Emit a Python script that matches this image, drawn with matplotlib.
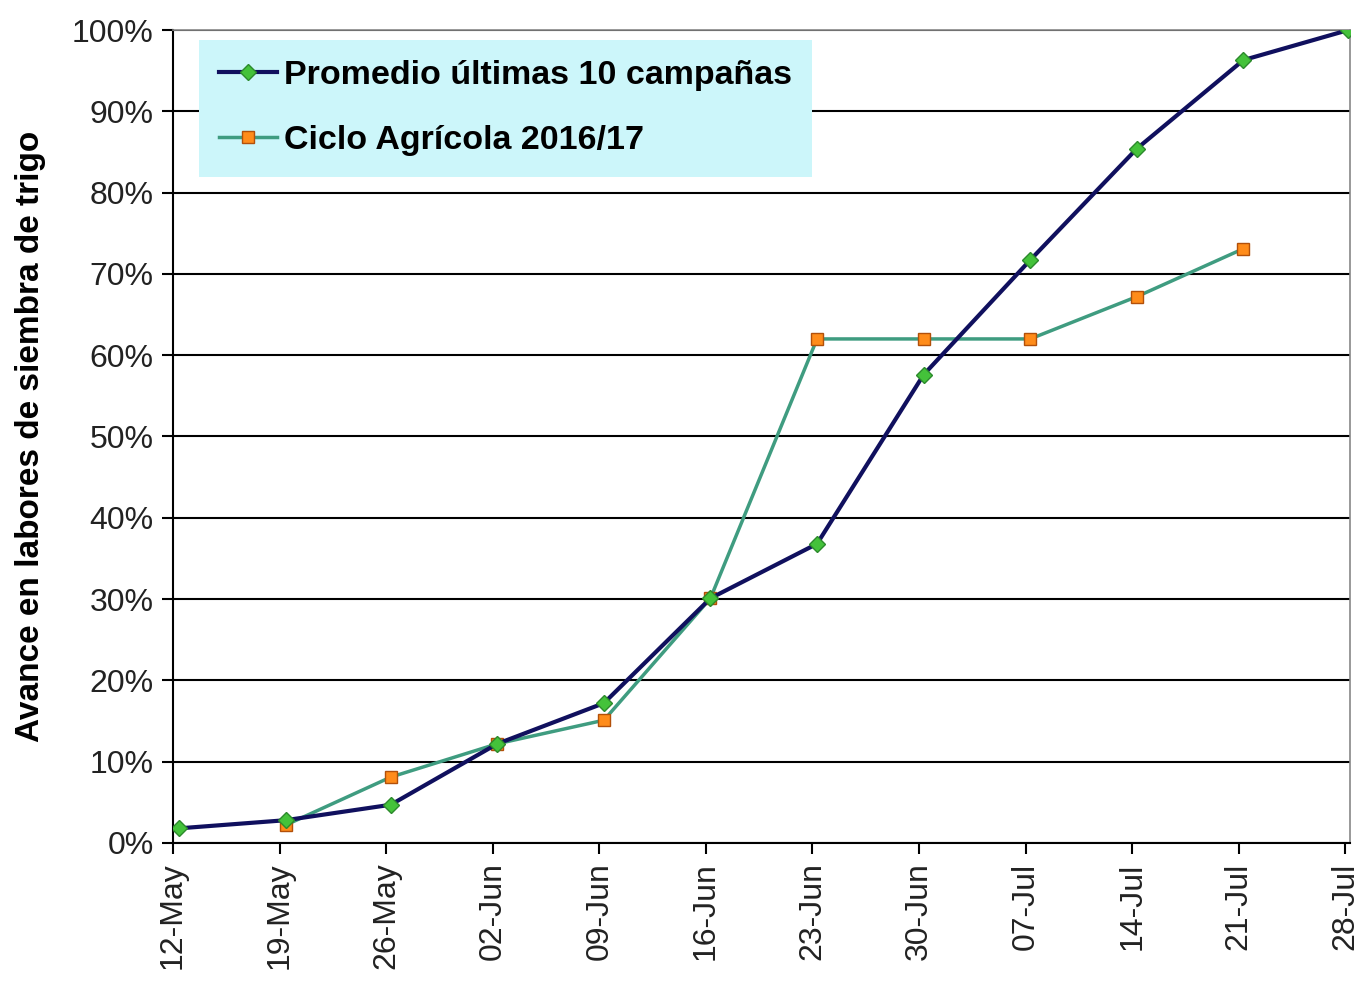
import numpy as np
import matplotlib.pyplot as plt
from matplotlib.ticker import PercentFormatter

plt.rcParams['font.family'] = ['Liberation Sans', 'DejaVu Sans']

# Fechas (días desde 12-May) y avance de siembra (%)
date_labels = ['12-May', '19-May', '26-May', '02-Jun', '09-Jun', '16-Jun',
               '23-Jun', '30-Jun', '07-Jul', '14-Jul', '21-Jul', '28-Jul']
tick_days = [0, 7, 14, 21, 28, 35, 42, 49, 56, 63, 70, 77]
point_days = [0.4, 7.4, 14.3, 21.3, 28.3, 35.3, 42.3, 49.3, 56.3, 63.3, 70.3, 77.2]

promedio = [1.8, 2.8, 4.7, 12.2, 17.2, 30.1, 36.8, 57.6, 71.7, 85.4, 96.3, 100.0]
ciclo_days = point_days[1:11]
ciclo = [2.2, 8.1, 12.2, 15.1, 30.1, 62.0, 62.0, 62.0, 67.2, 73.1]

fig = plt.figure(figsize=(13.6, 9.81), dpi=100)
ax = fig.add_axes([0.1272, 0.1407, 0.8654, 0.8287])

ax.plot(point_days, promedio, color='#10105e', lw=3, marker='D', ms=8,
        mfc='#44c23a', mec='#2c8a2c', mew=1, label='Promedio últimas 10 campañas', zorder=4)
ax.plot(ciclo_days, ciclo, color='#3f9c80', lw=2.5, marker='s', ms=9,
        mfc='#ff8c1a', mec='#b2500a', mew=1, label='Ciclo Agrícola 2016/17', zorder=3)

ax.set_xlim(0, 77.3)
ax.set_ylim(0, 100)
ax.set_xticks(tick_days)
ax.set_xticklabels(date_labels, rotation=90, fontsize=23, color='#222222')
ax.set_yticks(np.arange(0, 101, 10))
ax.yaxis.set_major_formatter(PercentFormatter(decimals=0))
ax.tick_params(axis='y', labelsize=23, labelcolor='#222222', length=8, width=1.5,
               direction='out', pad=6)
ax.tick_params(axis='x', length=8, width=1.5, direction='out', pad=6)
ax.grid(axis='y', color='black', lw=1.5)
ax.set_axisbelow(True)

for s in ['left', 'bottom']:
    ax.spines[s].set_color('black')
    ax.spines[s].set_linewidth(1.5)
for s in ['top', 'right']:
    ax.spines[s].set_color('#888888')
    ax.spines[s].set_linewidth(1.2)

ax.set_ylabel('Avance en labores de siembra de trigo', fontsize=24, fontweight='bold')
ax.yaxis.set_label_coords(-0.108, 0.5)

leg = ax.legend(loc='upper left', bbox_to_anchor=(0.022, 0.988),
                prop={'weight': 'bold', 'size': 24.5}, facecolor='#ccf6fa', edgecolor='none',
                framealpha=1, fancybox=False, handlelength=1.7, handletextpad=0.2,
                borderpad=0.6, labelspacing=1.0, borderaxespad=0)

fig.savefig('out.png', dpi=100)
